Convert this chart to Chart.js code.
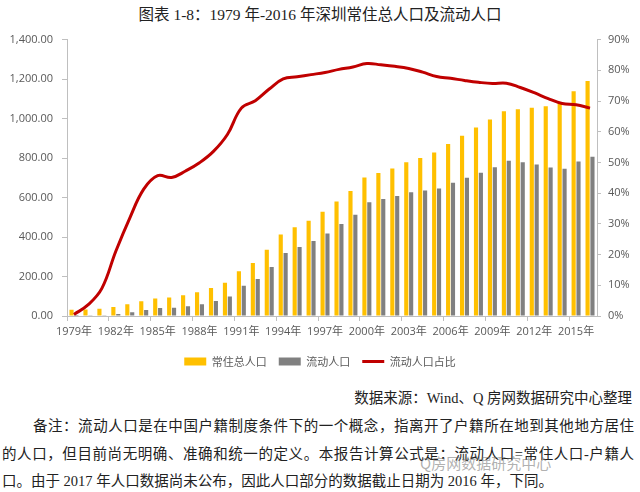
<!DOCTYPE html>
<html>
<head>
<meta charset="utf-8">
<script src="https://cdn.jsdelivr.net/npm/chart.js@4.4.1/dist/chart.umd.min.js"></script>
<style>
    body { margin: 0; width: 640px; height: 492px; background: #fff; position: relative; overflow: hidden;
           font-family: "Liberation Serif", "Noto Sans CJK SC", serif; color: #222; }
    #title { position: absolute; top: 2px; left: 0; width: 640px; text-align: center; font-size: 15.5px; }
    #chartBox { position: absolute; top: 24px; left: 0; width: 640px; height: 353px; }
    #source { position: absolute; top: 386px; right: 8px; font-size: 14.5px; }
    .note { position: absolute; font-size: 14.5px; text-align: justify; text-align-last: justify; }
    #mark { position: absolute; top: 452px; left: 420px; font-family: "Noto Sans CJK SC", sans-serif;
            font-size: 15px; color: rgba(110,110,110,0.55); }
</style>
</head>
<body>
<div id="title">图表 1-8：1979 年-2016 年深圳常住总人口及流动人口</div>
<div id="chartBox"><canvas id="popChart"></canvas></div>
<div id="source">数据来源：Wind、Q 房网数据研究中心整理</div>
<div class="note" style="top:414px; left:33px; width:601px;">备注：流动人口是在中国户籍制度条件下的一个概念，指离开了户籍所在地到其他地方居住</div>
<div class="note" style="top:442px; left:2px; width:632px;">的人口，但目前尚无明确、准确和统一的定义。本报告计算公式是：流动人口=常住人口-户籍人</div>
<div class="note" style="top:469px; left:2px; text-align-last:left;">口。由于 2017 年人口数据尚未公布，因此人口部分的数据截止日期为 2016 年，下同。</div>
<div id="mark">Q房网数据研究中心</div>
<script>
const years = [1979, 1980, 1981, 1982, 1983, 1984, 1985, 1986, 1987, 1988,
               1989, 1990, 1991, 1992, 1993, 1994, 1995, 1996, 1997, 1998,
               1999, 2000, 2001, 2002, 2003, 2004, 2005, 2006, 2007, 2008,
               2009, 2010, 2011, 2012, 2013, 2014, 2015, 2016];

// 常住总人口 (万人)
const residentPop = [31.4, 33.3, 36.7, 45.0, 59.5, 74.1, 88.2, 93.6, 105.4, 120.1,
                     141.6, 167.8, 226.8, 268.0, 336.0, 412.7, 449.2, 482.9, 527.8, 580.3,
                     632.6, 701.2, 724.6, 746.6, 778.3, 800.8, 827.8, 871.1, 912.4, 954.3,
                     995.0, 1037.2, 1046.7, 1054.7, 1062.9, 1077.9, 1137.9, 1190.8];

// 流动人口 (万人)
const floatingPop = [0.2, 1.2, 3.3, 9.5, 19.0, 30.6, 40.3, 42.2, 49.8, 60.0,
                     75.9, 99.1, 153.5, 187.8, 248.3, 318.7, 350.0, 379.5, 418.3, 465.7,
                     512.7, 576.3, 592.5, 607.2, 627.3, 635.7, 645.8, 674.3, 700.0, 726.2,
                     753.6, 786.2, 778.8, 767.1, 752.4, 745.7, 782.9, 806.3];

// 流动人口占比 (%)
const floatingShare = [0.5, 3.6, 9.0, 21.1, 31.9, 41.3, 45.7, 45.1, 47.2, 49.9,
                       53.6, 59.1, 67.7, 70.1, 73.9, 77.2, 77.9, 78.6, 79.3, 80.3,
                       81.1, 82.2, 81.8, 81.3, 80.6, 79.4, 78.0, 77.4, 76.7, 76.1,
                       75.7, 75.8, 74.4, 72.7, 70.8, 69.2, 68.8, 67.7];

const axisGray = '#bfbfbf';
const textGray = '#595959';
const tickFont = { family: '"Open Sans", "Noto Sans CJK SC", sans-serif', size: 11 };

const ctx = document.getElementById('popChart').getContext('2d');

new Chart(ctx, {
    type: 'bar',
    data: {
        labels: years,
        datasets: [
            {
                label: '常住总人口',
                data: residentPop,
                backgroundColor: '#FFC000',
                borderWidth: 0,
                pointStyle: 'rect',
                order: 1,
                yAxisID: 'y'
            },
            {
                label: '流动人口',
                data: floatingPop,
                backgroundColor: '#808080',
                borderWidth: 0,
                pointStyle: 'rect',
                order: 1,
                yAxisID: 'y'
            },
            {
                type: 'line',
                label: '流动人口占比',
                data: floatingShare,
                borderColor: '#C00000',
                backgroundColor: '#C00000',
                borderWidth: 3,
                pointRadius: 0,
                pointStyle: 'line',
                tension: 0.4,
                order: 0,
                yAxisID: 'y1'
            }
        ]
    },
    options: {
        responsive: true,
        maintainAspectRatio: false,
        animation: false,
        layout: { padding: { top: 13, left: 0, right: 0, bottom: 0 } },
        datasets: {
            bar: { categoryPercentage: 0.7, barPercentage: 0.85 }
        },
        plugins: {
            tooltip: { enabled: false },
            legend: {
                position: 'bottom',
                labels: {
                    usePointStyle: true,
                    pointStyleWidth: 22,
                    boxHeight: 8,
                    padding: 12,
                    color: textGray,
                    font: { family: '"Noto Sans CJK SC", sans-serif', size: 11 },
                    sort: (a, b) => a.datasetIndex - b.datasetIndex
                }
            }
        },
        scales: {
            x: {
                grid: {
                    offset: true,
                    drawOnChartArea: false,
                    tickLength: 5,
                    color: c => (c.index % 3 === 0 ? axisGray : 'rgba(0,0,0,0)')
                },
                border: { color: axisGray },
                ticks: {
                    autoSkip: false,
                    maxRotation: 0,
                    padding: 4,
                    color: textGray,
                    font: { family: '"Open Sans", "Noto Sans CJK SC", sans-serif', size: 11 },
                    callback: (v, i) => (i % 3 === 0 ? years[i] + '年' : '')
                },
                afterFit: scale => { scale.height = 28; }
            },
            y: {
                position: 'left',
                min: 0,
                max: 1400,
                ticks: {
                    stepSize: 200,
                    padding: 9,
                    color: textGray,
                    font: tickFont,
                    callback: v => v.toLocaleString('en-US', { minimumFractionDigits: 2, maximumFractionDigits: 2 })
                },
                grid: { drawOnChartArea: false, tickLength: 5, color: axisGray },
                border: { color: axisGray },
                afterFit: scale => { scale.width = 67; }
            },
            y1: {
                position: 'right',
                min: 0,
                max: 90,
                ticks: {
                    stepSize: 10,
                    padding: 7,
                    color: textGray,
                    font: tickFont,
                    callback: v => v + '%'
                },
                grid: { drawOnChartArea: false, tickLength: 4, color: axisGray },
                border: { color: axisGray },
                afterFit: scale => { scale.width = 43; }
            }
        }
    }
});
</script>
</body>
</html>
